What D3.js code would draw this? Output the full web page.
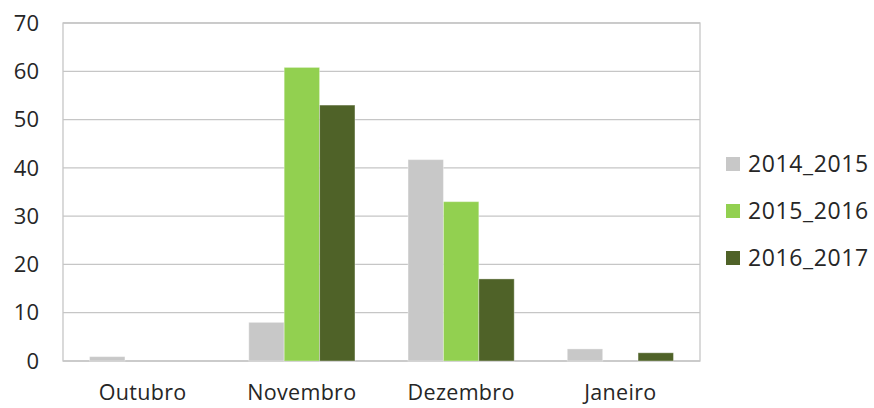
<!DOCTYPE html>
<html>
<head>
<meta charset="utf-8">
<script src="https://cdn.jsdelivr.net/npm/d3@7"></script>
<style>
  body { margin: 0; background: #fff; }
  text { font-family: "Open Sans", "Noto Sans", sans-serif; fill: #262626; }
</style>
</head>
<body>
<svg id="chart" width="874" height="408"></svg>
<script>
const months = ["Outubro", "Novembro", "Dezembro", "Janeiro"];
const seasons = ["2014_2015", "2015_2016", "2016_2017"];
const v2014 = [0.9, 8, 41.7, 2.5];
const v2015 = [0, 60.8, 33, 0];
const v2016 = [0, 53, 17, 1.7];
const yTicks = [0, 10, 20, 30, 40, 50, 60, 70];
const colors = ["#c8c8c8", "#92d050", "#4f6228"];

const svg = d3.select("svg#chart");
const margin = { top: 23, left: 63, right: 174, bottom: 47 };
const width = +svg.attr("width");
const height = +svg.attr("height");
const chartWidth = width - margin.left - margin.right;
const chartHeight = height - margin.top - margin.bottom;

const seriesValues = [v2014, v2015, v2016];
const data = months.map((m, i) => ({
  month: m,
  values: seasons.map((s, j) => ({ season: s, value: seriesValues[j][i], idx: j }))
}));

const x = d3.scaleBand().domain(months).range([0, chartWidth]).paddingInner(0).paddingOuter(0);
// Excel gap width 150%: 3 bars + 1.5 bar of gap per category
const barW = x.bandwidth() / 4.5;
const xInner = d3.scaleBand().domain(seasons).range([barW * 0.75, barW * 3.75]).padding(0);
const y = d3.scaleLinear().domain([0, 70]).range([chartHeight, 0]);

const chart = svg.append("g").attr("transform", `translate(${margin.left},${margin.top})`);

// gridlines
chart.append("g")
  .selectAll("line").data(yTicks).join("line")
  .attr("x1", 0).attr("x2", chartWidth)
  .attr("y1", d => y(d)).attr("y2", d => y(d))
  .attr("stroke", "#c6c6c6").attr("stroke-width", 1.3);

// plot border
chart.append("rect")
  .attr("x", 0).attr("y", 0).attr("width", chartWidth).attr("height", chartHeight)
  .attr("fill", "none").attr("stroke", "#c6c6c6").attr("stroke-width", 1.3);

// bars
const groups = chart.selectAll("g.month").data(data).join("g")
  .attr("class", "month")
  .attr("transform", d => `translate(${x(d.month)},0)`);

groups.selectAll("rect").data(d => d.values.filter(v => v.value > 0)).join("rect")
  .attr("x", d => xInner(d.season))
  .attr("width", xInner.bandwidth())
  .attr("y", d => y(d.value))
  .attr("height", d => y(0) - y(d.value))
  .attr("fill", d => colors[d.idx])
  .attr("stroke", "#ffffff").attr("stroke-opacity", 0.35).attr("stroke-width", 1);

// y axis labels
chart.append("g")
  .selectAll("text").data(yTicks).join("text")
  .attr("x", -24).attr("y", d => y(d))
  .attr("dy", "0.35em")
  .attr("text-anchor", "end")
  .style("font-size", "22px")
  .text(d => d);

// x axis labels
chart.append("g")
  .selectAll("text").data(months).join("text")
  .attr("x", d => x(d) + x.bandwidth() / 2)
  .attr("y", chartHeight + 31)
  .attr("dy", "0.35em")
  .attr("text-anchor", "middle")
  .style("font-size", "21.5px")
  .style("letter-spacing", "0.3px")
  .text(d => d);

// legend
const legend = svg.append("g").attr("transform", "translate(726,164)");
const items = legend.selectAll("g").data(seasons).join("g")
  .attr("transform", (d, i) => `translate(0,${i * 47})`);
items.append("rect")
  .attr("x", 0).attr("y", -7).attr("width", 14).attr("height", 14)
  .attr("fill", (d, i) => colors[i]);
items.append("text")
  .attr("x", 22).attr("y", 0).attr("dy", "0.35em")
  .style("font-size", "23px")
  .style("letter-spacing", "0.6px")
  .text(d => d);
</script>
</body>
</html>
